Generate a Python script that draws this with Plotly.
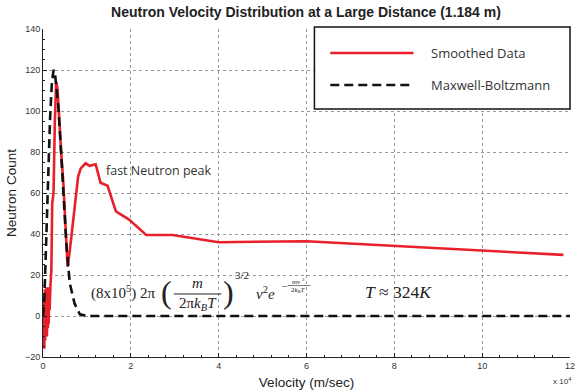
import plotly.graph_objects as go

# ---------------- data (velocity in units of 1e4 m/s) ----------------
smooth_v = [0.01, 0.02, 0.03, 0.04, 0.05, 0.06, 0.07, 0.08, 0.09, 0.10, 0.11, 0.12,
            0.13, 0.14, 0.15, 0.17, 0.19, 0.21, 0.24, 0.27, 0.30, 0.33, 0.38, 0.42,
            0.46, 0.50, 0.535, 0.56, 0.60, 0.68, 0.74, 0.80, 0.86, 0.97, 1.06, 1.20,
            1.31, 1.47, 1.66, 1.96, 2.35, 2.95, 4.00, 6.00, 11.85]
smooth_count = [-5, 10, -16, 13, -12, 12, -9, 14, -10, 9, -6, 14,
                -4, 12, 3, 15, 22, 55, 60, 95, 114, 111, 91, 78,
                66, 48, 31, 24, 30, 45, 58, 68, 72, 74.5, 73.3, 74,
                65, 63.5, 51, 47, 39.5, 39.5, 36, 36.5, 29.8]

mb_v = [0, 0.03, 0.06, 0.09, 0.12, 0.16, 0.20, 0.24, 0.27, 0.30, 0.35, 0.40,
        0.46, 0.535, 0.61, 0.72, 0.84, 1.0, 2, 3, 4, 5, 6, 7, 8, 9, 10, 11, 12]
mb_count = [0, 8, 28, 52, 74, 96, 113, 120, 119, 113, 102, 84,
            60, 34, 16, 6, 0.8, 0, 0, 0, 0, 0, 0, 0, 0, 0, 0, 0, 0]

x_ticks = [0, 2, 4, 6, 8, 10, 12]
x_tick_text = ["0", "2", "4", "6", "8", "10", "12"]
y_ticks = [-20, 0, 20, 40, 60, 80, 100, 120, 140]

series_names = ["Smoothed Data", "Maxwell-Boltzmann"]
title_text = "Neutron Velocity Distribution at a Large Distance (1.184 m)"

# ---------------- layout geometry ----------------
W, H = 580, 392
L, R, T, B = 43, 5, 29, 35
PW, PH = W - L - R, H - T - B


def px(x):
    return (x - L) / PW


def py(y):
    return (H - B - y) / PH


RED = "#e8202a"
fig = go.Figure()
fig.add_trace(go.Scatter(x=smooth_v, y=smooth_count, mode="lines",
                         name=series_names[0],
                         line=dict(color=RED, width=2.6)))
fig.add_trace(go.Scatter(x=mb_v, y=mb_count, mode="lines",
                         name=series_names[1],
                         line=dict(color="#111111", width=2.6, dash="9px,5px")))

tickfont = dict(family="Liberation Sans, Arial", size=9, color="#333333")
fig.update_layout(
    width=W, height=H,
    margin=dict(l=L, r=R, t=T, b=B, pad=0),
    paper_bgcolor="white", plot_bgcolor="white",
    showlegend=False,
    title=dict(text="<b>" + title_text + "</b>", x=306 / W, xanchor="center",
               y=1 - 12 / H, yanchor="middle",
               font=dict(family="Liberation Sans, Arial", size=14, color="#222222")),
    xaxis=dict(range=[0, 12], tickvals=x_ticks, ticktext=x_tick_text,
               ticklabeloverflow="allow",
               showgrid=True, gridcolor="#9a9a9a", griddash="dot", gridwidth=1,
               showline=True, linecolor="#222222", linewidth=1, mirror=False,
               ticks="inside", ticklen=4, tickcolor="#222222", zeroline=False,
               minor=dict(dtick=0.4, ticks="inside", ticklen=2, tickcolor="#222222", showgrid=False),
               tickfont=tickfont, title=dict(text="Velocity (m/sec)", standoff=7,
                                             font=dict(family="Liberation Sans, Arial", size=13.5, color="#222222"))),
    yaxis=dict(range=[-20, 140], tickvals=y_ticks,
               showgrid=True, gridcolor="#9a9a9a", griddash="dot", gridwidth=1,
               showline=True, linecolor="#222222", linewidth=1, mirror=False,
               ticks="inside", ticklen=4, tickcolor="#222222", zeroline=False,
               minor=dict(dtick=5, ticks="inside", ticklen=2, tickcolor="#222222", showgrid=False),
               tickfont=tickfont, title=dict(text="Neutron Count", standoff=5,
                                             font=dict(family="Liberation Sans, Arial", size=13.5, color="#222222"))),
)

# ---------------- legend box (drawn) ----------------
fig.add_shape(type="rect", xref="paper", yref="paper",
              x0=px(317), x1=px(575), y0=py(109), y1=py(27),
              line=dict(color="#111111", width=1.5), fillcolor="white", layer="above")
fig.add_shape(type="line", xref="paper", yref="paper",
              x0=px(333), x1=px(417), y0=py(53), y1=py(53),
              line=dict(color=RED, width=2.6))
fig.add_shape(type="line", xref="paper", yref="paper",
              x0=px(333), x1=px(417), y0=py(85), y1=py(85),
              line=dict(color="#111111", width=2.6, dash="9px,5px"))
legfont = dict(family="Open Sans, Noto Sans", size=13, color="#333333")
for name, yy in zip(series_names, [53, 85]):
    fig.add_annotation(xref="paper", yref="paper", x=px(433), y=py(yy), text=name,
                       showarrow=False, xanchor="left", yanchor="middle", font=legfont)

# ---------------- text annotations ----------------
fig.add_annotation(xref="paper", yref="paper", x=px(105), y=py(170),
                   text="fast Neutron peak", showarrow=False, xanchor="left",
                   yanchor="middle", font=dict(family="Open Sans, Noto Sans", size=12.5, color="#333333"))

serif = "Liberation Serif, DejaVu Serif"
mfont = dict(family=serif, size=15, color="#222222")
fig.add_annotation(xref="paper", yref="paper", x=px(89), y=py(292),
                   text="(8x10<sup>5</sup>) 2π", showarrow=False, xanchor="left",
                   yanchor="middle", font=mfont)
fig.add_annotation(xref="paper", yref="paper", x=px(160), y=py(292),
                   text="(", showarrow=False, xanchor="left", yanchor="middle",
                   font=dict(family=serif, size=32, color="#222222"))
fig.add_annotation(xref="paper", yref="paper", x=px(199), y=py(283),
                   text="<i>m</i>", showarrow=False, xanchor="center", yanchor="middle",
                   font=mfont)
fig.add_shape(type="line", xref="paper", yref="paper",
              x0=px(175), x1=px(223), y0=py(294), y1=py(294),
              line=dict(color="#222222", width=1))
fig.add_annotation(xref="paper", yref="paper", x=px(199), y=py(304),
                   text="2π<i>k<sub>B</sub>T</i>", showarrow=False, xanchor="center",
                   yanchor="middle", font=mfont)
fig.add_annotation(xref="paper", yref="paper", x=px(223), y=py(292),
                   text=")", showarrow=False, xanchor="left", yanchor="middle",
                   font=dict(family=serif, size=32, color="#222222"))
fig.add_annotation(xref="paper", yref="paper", x=px(235), y=py(275),
                   text="3/2", showarrow=False, xanchor="left", yanchor="middle",
                   font=dict(family=serif, size=11, color="#222222"))
fig.add_annotation(xref="paper", yref="paper", x=px(256), y=py(293),
                   text="<i>v</i><sup>2</sup><i>e</i>", showarrow=False, xanchor="left",
                   yanchor="middle", font=mfont)
fig.add_annotation(xref="paper", yref="paper", x=px(282), y=py(286),
                   text="−", showarrow=False, xanchor="left", yanchor="middle",
                   font=dict(family=serif, size=10, color="#222222"))
fig.add_annotation(xref="paper", yref="paper", x=px(301), y=py(281),
                   text="<i>mv</i> <sup>2</sup>", showarrow=False, xanchor="center",
                   yanchor="middle", font=dict(family=serif, size=7, color="#222222"))
fig.add_shape(type="line", xref="paper", yref="paper",
              x0=px(290), x1=px(313), y0=py(285.5), y1=py(285.5),
              line=dict(color="#222222", width=0.6))
fig.add_annotation(xref="paper", yref="paper", x=px(301), y=py(290),
                   text="2<i>k<sub>B</sub>T</i>", showarrow=False, xanchor="center",
                   yanchor="middle", font=dict(family=serif, size=7, color="#222222"))
fig.add_annotation(xref="paper", yref="paper", x=px(366), y=py(292),
                   text="<i>T</i> ≈ 324<i>K</i>", showarrow=False, xanchor="left",
                   yanchor="middle", font=dict(family=serif, size=17.5, color="#222222"))

# axis multiplier
fig.add_annotation(xref="paper", yref="paper", x=px(578), y=py(381),
                   text="x 10<sup>4</sup>", showarrow=False, xanchor="right",
                   yanchor="middle", font=dict(family="Liberation Sans, Arial", size=8, color="#333333"))

fig.write_html("out.html")
